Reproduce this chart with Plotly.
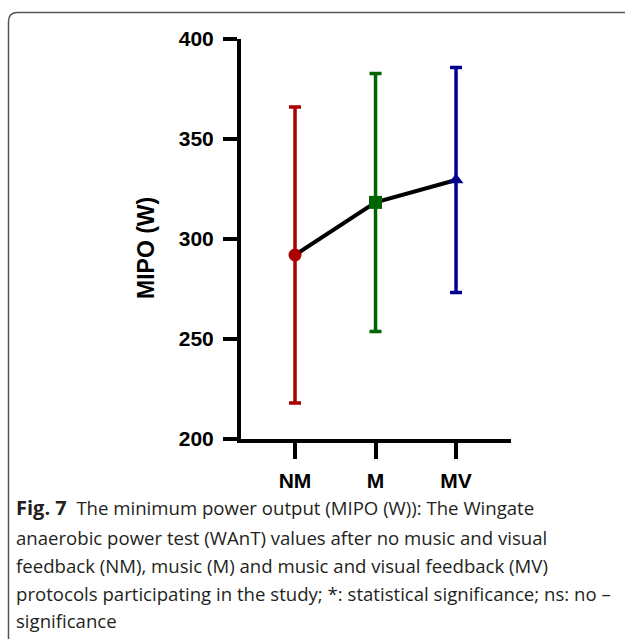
import plotly.graph_objects as go

# ---- data ----
categories = ["NM", "M", "MV"]
means = [292.0, 318.3, 329.5]
sd = [74.0, 64.5, 56.3]
colors = ["#AA0000", "#006400", "#00008B"]
symbols = ["circle", "square", "triangle-up"]
y_ticks = [200, 250, 300, 350, 400]
y_title = "MIPO (W)"
caption_lines = [
    "<b><span style='font-size:20px'>Fig. 7</span></b>  The minimum power output (MIPO (W)): The Wingate",
    "anaerobic power test (WAnT) values after no music and visual",
    "feedback (NM), music (M) and music and visual feedback (MV)",
    "protocols participating in the study; *: statistical significance; ns: no –",
    "significance",
]

W, H = 625, 639
L, R, T, B = 241, 114, 39, 200
pw, ph = W - L - R, H - T - B


def px2x(px):
    return (px - L) / pw


def py2y(py):
    return (H - B - py) / ph


fig = go.Figure()

# connecting line
fig.add_trace(go.Scatter(x=categories, y=means, mode="lines",
                         line=dict(color="black", width=4),
                         showlegend=False, hoverinfo="skip"))

for c, m, s, col, sym in zip(categories, means, sd, colors, symbols):
    fig.add_trace(go.Scatter(
        x=[c], y=[m], mode="markers",
        marker=dict(color=col, symbol=sym, size=13, line=dict(width=0)),
        error_y=dict(type="data", array=[s], visible=True, color=col,
                     thickness=3.5, width=6),
        showlegend=False))

tick_font = dict(family="Liberation Sans", size=21, color="black", weight="bold")

fig.update_xaxes(
    type="category", range=[-0.671, 2.683],
    showline=True, linecolor="black", linewidth=4,
    ticks="outside", ticklen=16, tickwidth=4, tickcolor="black",
    showgrid=False, zeroline=False, ticklabelstandoff=4,
    tickfont=tick_font,
)
fig.update_yaxes(
    range=[200, 400], tickvals=y_ticks,
    showline=True, linecolor="black", linewidth=4,
    ticks="outside", ticklen=14, tickwidth=4, tickcolor="black",
    showgrid=False, zeroline=False, ticklabelstandoff=5,
    tickfont=tick_font,
)

# y-axis title
fig.add_annotation(text=f"<b>{y_title}</b>", xref="paper", yref="paper",
                   x=px2x(146), y=py2y(248), xanchor="center", yanchor="middle",
                   textangle=-90, showarrow=False,
                   font=dict(family="Liberation Sans", size=23, color="black"))

# rounded frame (top and left edges)
x0, y0 = px2x(8.5), py2y(12.5)
rx, ry = 9 / pw, 9 / ph
fig.add_shape(type="path", xref="paper", yref="paper",
              path=(f"M {x0},{py2y(645)} L {x0},{y0 - ry} "
                    f"Q {x0},{y0} {x0 + rx},{y0} L {px2x(640)},{y0}"),
              line=dict(color="#555555", width=1.5))

# caption
line_y = [508, 537, 565, 593, 620]
for txt, yy in zip(caption_lines, line_y):
    fig.add_annotation(text=txt, xref="paper", yref="paper",
                       x=px2x(14), y=py2y(yy), xanchor="left", yanchor="middle",
                       showarrow=False,
                       font=dict(family="Open Sans", size=18.6, color="#231F20"))

fig.update_layout(
    width=W, height=H, autosize=False,
    margin=dict(l=L, r=R, t=T, b=B),
    plot_bgcolor="white", paper_bgcolor="white",
)

fig.write_html("out.html")
